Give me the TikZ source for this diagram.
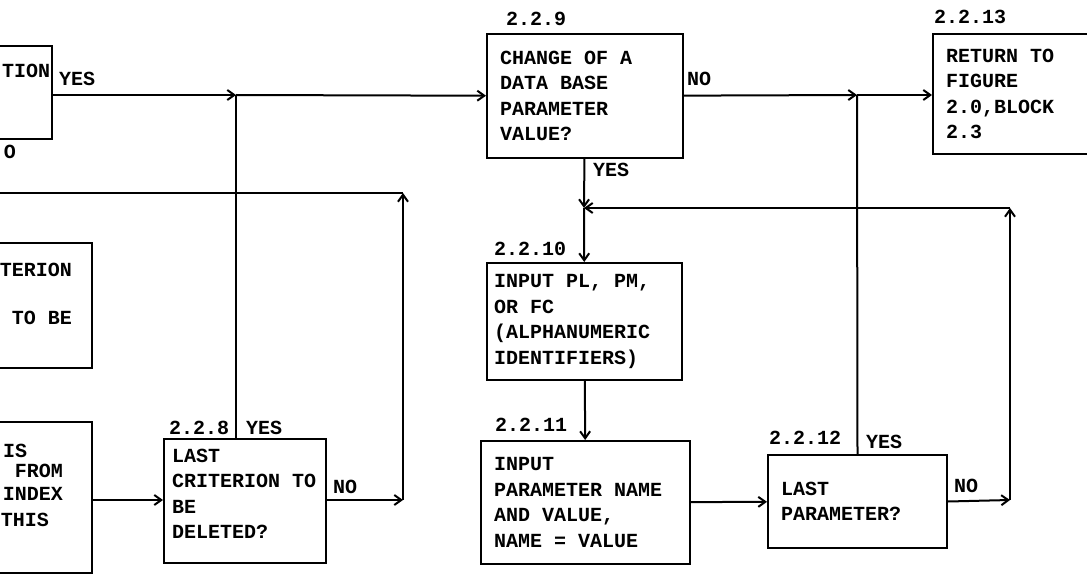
\documentclass[tikz,border=0pt]{standalone}
\usepackage{fontspec}
\newfontfamily\dotfont{Liberation Mono}[WordSpace={1,0,0}]
\usetikzlibrary{arrows.meta}

\begin{document}
\begin{tikzpicture}[x=1pt,y=-1pt,line width=2pt,
  font={\dotfont\bfseries\fontsize{20}{25.5}\selectfont},
  >={Straight Barb[length=7pt,width=10pt]},
  blk/.style={draw,anchor=north west,align=left,inner xsep=13pt,inner ysep=0pt,
    execute at begin node={\spaceskip=12pt\relax}},
  lbl/.style={anchor=west,inner sep=0pt}]
  \useasboundingbox (0,0) rectangle (1087,575);
  \clip (0,0) rectangle (1087,575);

  % blocks cut off at the left margin
  \draw (0,46) -- (52,46) -- (52,139) -- (0,139);
  \draw (0,243) -- (92,243) -- (92,368) -- (0,368);
  \draw (0,422) -- (92,422) -- (92,573) -- (0,573);
  \node[lbl] (tion) at (1,71) {TION};
  \node[lbl] (o) at (3,152) {O};
  \node[anchor=east,inner sep=0pt] (terion) at (73,270) {TERION};
  \node[anchor=east,inner sep=0pt] (tobe) at (73,318) {TO BE};
  \node[lbl] (is) at (2,451) {IS};
  \node[anchor=east,inner sep=0pt] (from) at (64,471) {FROM};
  \node[anchor=east,inner sep=0pt] (index) at (64,494) {INDEX};
  \node[lbl] (this) at (0,520) {THIS};

  % blocks
  \node[blk,text width=146pt,inner xsep=8pt,minimum height=124pt] (b228) at (163,438) {LAST\\CRITERION TO\\BE\\DELETED?\vspace{14pt}};
  \node[blk,text width=170pt,minimum height=124pt] (b229) at (486,33) {CHANGE OF A\\DATA BASE\\PARAMETER\\VALUE?};
  \node[blk,text width=181pt,inner xsep=7pt,minimum height=117pt] (b2210) at (486,262) {INPUT PL, PM,\\OR FC\\(ALPHANUMERIC\\IDENTIFIERS)};
  \node[blk,text width=183pt,minimum height=123pt] (b2211) at (480,440) {INPUT\\PARAMETER NAME\\AND VALUE,\\NAME = VALUE};
  \node[blk,text width=153pt,minimum height=93pt] (b2212) at (767,454) {LAST\\PARAMETER?};
  \node[blk,text width=160pt,minimum height=120pt] (b2213) at (932,33) {RETURN TO\\FIGURE\\2.0,BLOCK\\2.3};

  \node[lbl] (l228) at (168,428) {2.2.8};
  \node[lbl] (l229) at (505,19) {2.2.9};
  \node[lbl] (l2210) at (493,249) {2.2.10};
  \node[lbl] (l2211) at (494,425) {2.2.11};
  \node[lbl] (l2212) at (768,438) {2.2.12};
  \node[lbl] (l2213) at (933,17) {2.2.13};

  % branch labels
  \node[lbl] (yes0) at (58,79) {YES};
  \node[lbl] (yes228) at (245,428) {YES};
  \node[lbl] (no228) at (332,487) {NO};
  \node[lbl] (no229) at (686,79) {NO};
  \node[lbl] (yes229) at (592,170) {YES};
  \node[lbl] (yes2212) at (865,442) {YES};
  \node[lbl] (no2212) at (953,486) {NO};

  % connectors
  \coordinate (tl) at (52,95);
  \coordinate (lb) at (92,500);
  \coordinate (j1) at (236,95);
  \coordinate (j2) at (857,95);
  \coordinate (j3) at (584,208);
  \coordinate (c1) at (403,500);
  \coordinate (c2) at (403,193);
  \coordinate (c3) at (0,193);
  \coordinate (c4) at (1010,500);
  \coordinate (c5) at (1010,208);

  \draw[->] (tl) -- (j1);
  \draw[->] (j1) -- (b229);
  \draw (b228.north -| j1) -- (j1);
  \draw[->] (lb) -- (b228.west |- lb);
  \draw[->] (b228.east |- c1) -- (c1);
  \draw[->] (c1) -- (c2);
  \draw (c2) -- (c3);
  \draw[->] (b229) -- (j2);
  \draw[->] (j2) -- (b2213.west |- j2);
  \draw (b2212.north) -- (j2);
  \draw[->] (b229) -- (j3);
  \draw[->] (j3) -- (b2210);
  \draw[->] (b2210) -- (b2211);
  \draw[->] (b2211) -- (b2212);
  \draw[->] (b2212.east) -- (c4);
  \draw[->] (c4) -- (c5);
  \draw[->] (c5) -- (j3);
\end{tikzpicture}
\end{document}
